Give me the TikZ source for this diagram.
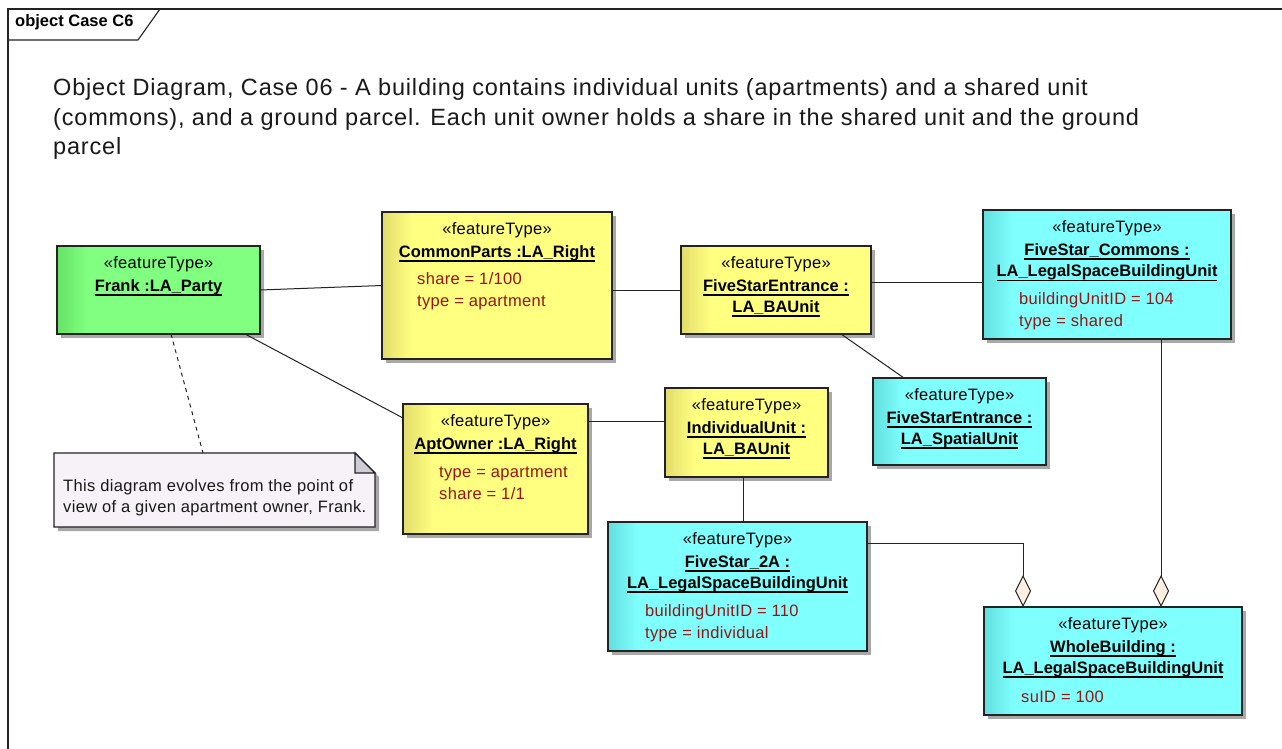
\documentclass[tikz,border=0pt]{standalone}
\usepackage{fontspec}
\setmainfont{Liberation Sans}
\newfontfamily\regfont[LetterSpace=2]{Liberation Sans}
\newfontfamily\headfont[LetterSpace=3.5]{Liberation Sans}
\usetikzlibrary{calc,shadows,arrows.meta}

\definecolor{ymain}{RGB}{255,255,128}
\definecolor{ydark}{RGB}{226,220,108}
\definecolor{cmain}{RGB}{128,255,255}
\definecolor{cdark}{RGB}{98,222,222}
\definecolor{gmain}{RGB}{128,255,128}
\definecolor{gdark}{RGB}{102,226,102}
\definecolor{notefill}{RGB}{247,242,247}
\definecolor{foldgray}{RGB}{206,204,214}
\definecolor{shadowgray}{RGB}{168,168,168}
\definecolor{attrred}{RGB}{150,20,20}
\definecolor{diamondfill}{RGB}{253,240,226}
\definecolor{linegray}{RGB}{35,35,35}

% underlined object name
\newcommand\ulname[1]{\setbox0\hbox{#1}\rlap{\rule[-4.6pt]{\wd0}{1.2pt}}\box0}

\tikzset{
  objbox/.style={draw=linegray, line width=1.2pt, inner sep=0pt, outer sep=0pt,
    anchor=north west,
    drop shadow={shadow xshift=4pt, shadow yshift=-4pt, fill=shadowgray, opacity=1, draw=none}},
  % light fill with a darker band fading in from the left edge
  shadedfill/.style 2 args={fill=#1,
    path picture={\foreach \i in {0,...,29}{
      \pgfmathtruncatemacro\pct{100-\i*100/30}
      \fill[#2!\pct!#1] ([xshift={\i*1pt}]path picture bounding box.north west)
        rectangle ([xshift={\i*1pt+1.3pt}]path picture bounding box.south west);}}},
  yobj/.style={objbox, shadedfill={ymain}{ydark}},
  cobj/.style={objbox, shadedfill={cmain}{cdark}},
  gobj/.style={objbox, shadedfill={gmain}{gdark}},
  stereo/.style={anchor=base, inner sep=0pt, font=\regfont\fontsize{16.5}{20}\selectfont},
  oname/.style={anchor=base, inner sep=0pt, font=\fontsize{16.5}{20}\selectfont\bfseries},
  attr/.style={anchor=base west, inner sep=0pt, text=attrred, font=\regfont\fontsize{16.5}{20}\selectfont},
  titletext/.style={anchor=base west, inner sep=0pt, text=black!90, font=\headfont\fontsize{23.5}{27}\selectfont},
  conn/.style={draw=linegray, line width=1pt},
  agg/.style={conn, -{Diamond[length=32pt, width=16pt, fill=diamondfill, line width=1pt]}},
}

\begin{document}
\begin{tikzpicture}[x=1pt, y=-1pt]
\useasboundingbox (0,0) rectangle (1282,749);
\fill[white] (0,0) rectangle (1282,749);

% diagram frame and its name tab
\draw[line width=1.1pt, linegray] (8,749) -- (8,9) -- (1282,9);
\draw[line width=1.1pt, linegray] (8,40) -- (138,40) -- (160,9);
\node[anchor=base west, inner sep=0pt, font=\fontsize{16.5}{20}\selectfont\bfseries] (frametitle) at (15,27) {object Case C6};

% heading
\node[titletext] (title1) at (53,96) {Object Diagram, Case 06 - A building contains individual units (apartments) and a shared unit};
\node[titletext] (title2) at (53,125) {(commons), and a ground parcel. Each unit owner holds a share in the shared unit and the ground};
\node[titletext] (title3) at (53,154) {parcel};

% object boxes
\node[gobj, minimum width=203pt, minimum height=88pt] (frank) at (57,246) {};
\node[yobj, minimum width=230pt, minimum height=147pt] (cp) at (382,212) {};
\node[yobj, minimum width=190pt, minimum height=88pt] (fse) at (681,246) {};
\node[cobj, minimum width=248pt, minimum height=129pt] (commons) at (983,210) {};
\node[cobj, minimum width=173pt, minimum height=87pt] (spatial) at (873,378) {};
\node[yobj, minimum width=185pt, minimum height=130pt] (apt) at (403,404) {};
\node[yobj, minimum width=163pt, minimum height=89pt] (iu) at (665,388) {};
\node[cobj, minimum width=259pt, minimum height=129pt] (fs2a) at (608,522) {};
\node[cobj, minimum width=258pt, minimum height=108pt] (whole) at (984,607) {};

% Frank
\node[stereo] (frank-s) at (158.5,268.5) {«featureType»};
\node[oname] (frank-n) at (158.5,291) {\ulname{Frank :LA\_Party}};
% CommonParts
\node[stereo] (cp-s) at (497,234.5) {«featureType»};
\node[oname] (cp-n) at (497,257) {\ulname{CommonParts :LA\_Right}};
\node[attr] (cp-a1) at (417,284) {share = 1/100};
\node[attr] (cp-a2) at (417,306) {type = apartment};
% FiveStarEntrance : LA_BAUnit
\node[stereo] (fse-s) at (776,268.5) {«featureType»};
\node[oname] (fse-n1) at (776,291) {\ulname{FiveStarEntrance :}};
\node[oname] (fse-n2) at (776,312) {\ulname{LA\_BAUnit}};
% FiveStar_Commons
\node[stereo] (commons-s) at (1107,232.5) {«featureType»};
\node[oname] (commons-n1) at (1107,255) {\ulname{FiveStar\_Commons :}};
\node[oname] (commons-n2) at (1107,276.5) {\ulname{LA\_LegalSpaceBuildingUnit}};
\node[attr] (commons-a1) at (1019,304) {buildingUnitID = 104};
\node[attr] (commons-a2) at (1019,326) {type = shared};
% FiveStarEntrance : LA_SpatialUnit
\node[stereo] (spatial-s) at (959.5,400.5) {«featureType»};
\node[oname] (spatial-n1) at (959.5,423) {\ulname{FiveStarEntrance :}};
\node[oname] (spatial-n2) at (959.5,444) {\ulname{LA\_SpatialUnit}};
% AptOwner
\node[stereo] (apt-s) at (495.5,426.5) {«featureType»};
\node[oname] (apt-n) at (495.5,449) {\ulname{AptOwner :LA\_Right}};
\node[attr] (apt-a1) at (439,477) {type = apartment};
\node[attr] (apt-a2) at (439,499) {share = 1/1};
% IndividualUnit
\node[stereo] (iu-s) at (746.5,410.5) {«featureType»};
\node[oname] (iu-n1) at (746.5,433) {\ulname{IndividualUnit :}};
\node[oname] (iu-n2) at (746.5,454) {\ulname{LA\_BAUnit}};
% FiveStar_2A
\node[stereo] (fs2a-s) at (737.5,544.5) {«featureType»};
\node[oname] (fs2a-n1) at (737.5,567) {\ulname{FiveStar\_2A :}};
\node[oname] (fs2a-n2) at (737.5,588) {\ulname{LA\_LegalSpaceBuildingUnit}};
\node[attr] (fs2a-a1) at (645,616) {buildingUnitID = 110};
\node[attr] (fs2a-a2) at (645,638) {type = individual};
% WholeBuilding
\node[stereo] (whole-s) at (1113,629.5) {«featureType»};
\node[oname] (whole-n1) at (1113,652) {\ulname{WholeBuilding :}};
\node[oname] (whole-n2) at (1113,673) {\ulname{LA\_LegalSpaceBuildingUnit}};
\node[attr] (whole-a1) at (1021,702) {suID = 100};

% note with folded corner
\node[inner sep=0pt, outer sep=0pt, anchor=north west, minimum width=321pt, minimum height=74pt] (note) at (54,453) {};
\coordinate (nf1) at ($(note.north east)+(-20,0)$);
\coordinate (nf2) at ($(note.north east)+(0,20)$);
\fill[shadowgray, transform canvas={xshift=4pt, yshift=-4pt}]
  (note.north west) -- (nf1) -- (nf2) -- (note.south east) -- (note.south west) -- cycle;
\filldraw[fill=notefill, draw=linegray, line width=1.2pt]
  (note.north west) -- (nf1) -- (nf2) -- (note.south east) -- (note.south west) -- cycle;
\filldraw[fill=foldgray, draw=linegray, line width=1.2pt] (nf1) -- (nf1 |- nf2) -- (nf2) -- cycle;
\node[attr, text=black!90] (note-l1) at (63,491) {This diagram evolves from the point of};
\node[attr, text=black!90] (note-l2) at (63,512) {view of a given apartment owner, Frank.};

% connectors
\draw[conn] (frank.east) -- (cp.west);
\draw[conn] ([xshift=-15pt]frank.south east) -- ([yshift=-14pt]apt.north west);
\draw[conn, dash pattern=on 4pt off 4pt] ([xshift=12.5pt]frank.south) -- ([xshift=-11.5pt]note.north);
\draw[conn] (fse.west -| cp.east) -- (fse.west);
\coordinate (fc) at ($(fse.east)+(0,-8)$);
\draw[conn] (fc) -- (fc -| commons.west);
\draw[conn] ([xshift=65pt]fse.south) -- ([xshift=-55.5pt]spatial.north);
\coordinate (ic) at ($(iu.west)+(0,-11.5)$);
\draw[conn] (ic -| apt.east) -- (ic);
\coordinate (iv) at ($(iu.south)+(-3.5,0)$);
\draw[conn] (iv) -- (iv |- fs2a.north);
\coordinate (w1) at ($(whole.north west)+(39,0)$);
\coordinate (f1) at ($(fs2a.north east)+(0,21)$);
\draw[agg] (f1) -- (f1 -| w1) -- (w1);
\coordinate (c2) at ($(commons.south)+(54,0)$);
\draw[agg] (c2) -- (c2 |- whole.north);
\end{tikzpicture}
\end{document}
